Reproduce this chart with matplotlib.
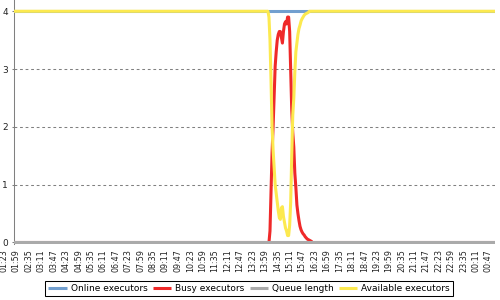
import matplotlib
matplotlib.use('Agg')
import matplotlib.pyplot as plt
import matplotlib.transforms as mtransforms
from matplotlib.lines import Line2D

plt.rcParams['font.family'] = ['DejaVu Sans']
plt.rcParams['lines.scale_dashes'] = False

# ---- data ----
time_labels = ['01:23', '01:59', '02:35', '03:11', '03:47', '04:23', '04:59', '05:35',
               '06:11', '06:47', '07:23', '07:59', '08:35', '09:11', '09:47', '10:23',
               '10:59', '11:35', '12:11', '12:47', '13:23', '13:59', '14:35', '15:11',
               '15:47', '16:23', '16:59', '17:35', '18:11', '18:47', '19:23', '19:59',
               '20:35', '21:11', '21:47', '22:23', '22:59', '23:35', '00:11', '00:47']
samples_per_label = 12          # one sample every 3 minutes
n_samples = 480
event_start = 255

busy_event = [0, 0, 0.2, 0.85, 1.55, 2.0, 2.55, 3.05, 3.3, 3.5, 3.6, 3.65, 3.65, 3.55,
              3.45, 3.65, 3.78, 3.82, 3.78, 3.9, 3.9, 3.65, 3.0, 2.3, 1.9, 1.65, 1.2,
              0.95, 0.65, 0.5, 0.38, 0.28, 0.22, 0.18, 0.15, 0.13, 0.1, 0.08, 0.06,
              0.05, 0.04, 0.03, 0.02, 0.0]
available_event = [4, 3.9, 3.5, 2.8, 2.0, 1.6, 1.3, 1.0, 0.85, 0.7, 0.55, 0.43, 0.4, 0.6,
                   0.62, 0.45, 0.35, 0.25, 0.2, 0.12, 0.12, 0.3, 0.7, 1.5, 2.2, 2.5, 2.95,
                   3.3, 3.45, 3.6, 3.7, 3.76, 3.83, 3.87, 3.9, 3.93, 3.95, 3.96, 3.97,
                   3.98, 4.0, 4, 4, 4]

n_after = n_samples - event_start - len(busy_event)
online = [4.0] * n_samples
queue = [0.0] * n_samples
busy = [0.0] * event_start + busy_event + [0.0] * n_after
available = [4.0] * event_start + available_event + [4.0] * n_after
x = list(range(n_samples))

series_names = ['Online executors', 'Busy executors', 'Queue length', 'Available executors']
series_colors = ['#729fcf', '#ef2929', '#aaaaaa', '#fce94f']

# ---- figure ----
fig = plt.figure(figsize=(5, 3), dpi=100)
px_per_unit = 57.8
y_low = -0.03
bottom_px = 242.5 + (-y_low) * px_per_unit
ax = fig.add_axes([13.5 / 500, (300 - bottom_px) / 300, 481.5 / 500, bottom_px / 300])

lw = 2.2
ax.plot(x, online, color=series_colors[0], lw=lw, zorder=3, solid_capstyle='butt')
ax.plot(x, busy, color=series_colors[1], lw=lw, zorder=4, solid_capstyle='butt')
ax.plot(x, queue, color=series_colors[2], lw=lw, zorder=5, solid_capstyle='butt')
ax.plot(x, available, color=series_colors[3], lw=lw, zorder=6, solid_capstyle='butt')

ax.set_xlim(9.18, 474.4)
ax.set_ylim(y_low, 4.195)

ax.set_yticks([0, 1, 2, 3, 4])
ax.tick_params(axis='y', length=1.5, width=0.75, color='#808080', pad=2.5,
               labelsize=6.5, labelcolor='#222222')
ax.set_xticks([])
ax.yaxis.grid(True, color='#808080', linestyle=(0, (2, 2)), linewidth=0.75, zorder=1)
ax.set_axisbelow(True)

for s in ['top', 'right', 'bottom']:
    ax.spines[s].set_visible(False)
ax.spines['left'].set_color('#808080')
ax.spines['left'].set_linewidth(0.75)

trans = mtransforms.blended_transform_factory(ax.transData, ax.transAxes) + \
    mtransforms.ScaledTranslation(0, -5 / 100, fig.dpi_scale_trans)
for k, lab in enumerate(time_labels):
    ax.text(k * samples_per_label, 0, lab, transform=trans, rotation=90,
            ha='center', va='top', fontsize=5.8, color='#222222', clip_on=False)

handles = [Line2D([], [], color=c, lw=lw, solid_capstyle='butt') for c in series_colors]
leg = fig.legend(handles, series_names, loc='center', bbox_to_anchor=(249 / 500, 1 - 288.8 / 300),
                 ncol=4, fontsize=6.5, frameon=True, fancybox=False, framealpha=1,
                 edgecolor='black', borderpad=0.35, handlelength=2.0, handletextpad=0.45,
                 columnspacing=0.6, borderaxespad=0)
leg.get_frame().set_linewidth(0.75)

fig.savefig('out.png', dpi=100)
